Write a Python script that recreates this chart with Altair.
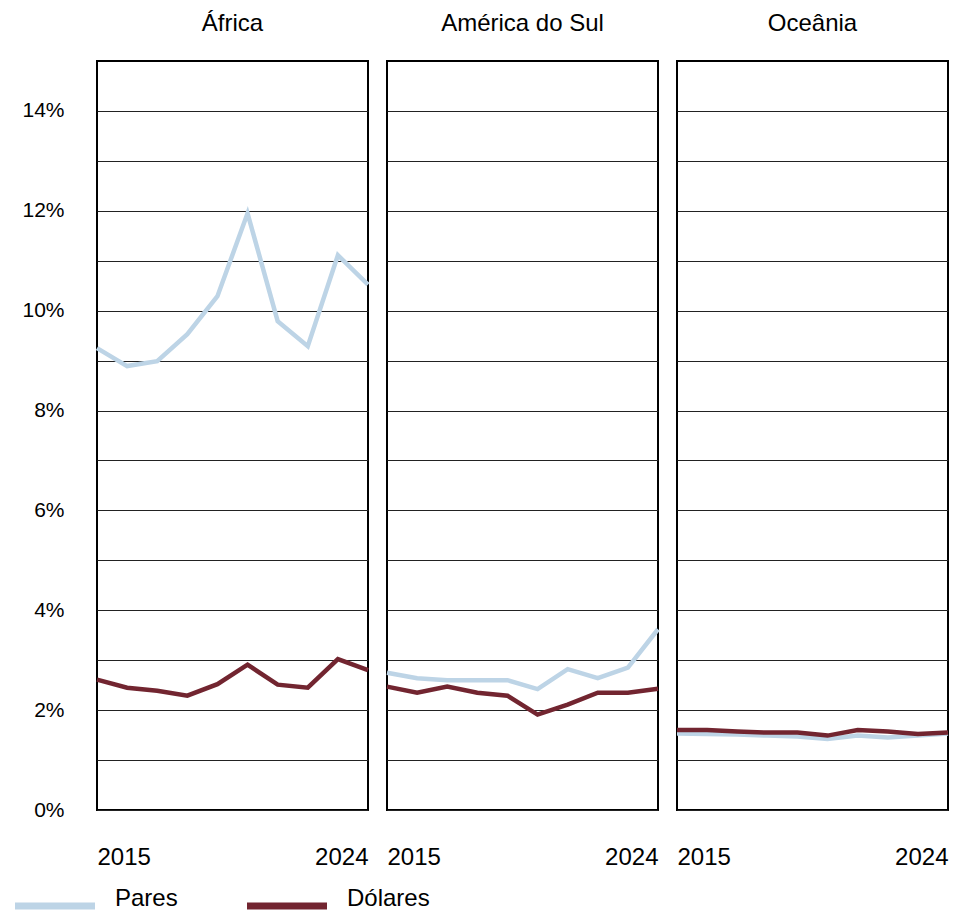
import altair as alt
import pandas as pd

years = list(range(2015, 2025))
regions = ["África", "América do Sul", "Oceânia"]
series_names = ["Pares", "Dólares"]
colors = ["#bdd4e6", "#722530"]

africa_pares = [9.25, 8.89, 8.99, 9.53, 10.29, 11.95, 9.79, 9.29, 11.11, 10.52]
africa_dolares = [2.61, 2.45, 2.39, 2.29, 2.52, 2.91, 2.51, 2.45, 3.02, 2.80]
sul_pares = [2.75, 2.64, 2.60, 2.60, 2.60, 2.42, 2.82, 2.64, 2.85, 3.62]
sul_dolares = [2.47, 2.35, 2.47, 2.35, 2.29, 1.91, 2.11, 2.35, 2.35, 2.43]
oce_pares = [1.53, 1.52, 1.51, 1.49, 1.47, 1.42, 1.49, 1.45, 1.49, 1.53]
oce_dolares = [1.60, 1.60, 1.57, 1.55, 1.55, 1.49, 1.60, 1.57, 1.52, 1.55]

table = {
    ("África", "Pares"): africa_pares,
    ("África", "Dólares"): africa_dolares,
    ("América do Sul", "Pares"): sul_pares,
    ("América do Sul", "Dólares"): sul_dolares,
    ("Oceânia", "Pares"): oce_pares,
    ("Oceânia", "Dólares"): oce_dolares,
}

rows = []
for s_i, s in enumerate(series_names):
    for r in regions:
        for y, v in zip(years, table[(r, s)]):
            rows.append({"region": r, "series": s, "order": s_i, "year": y, "value": v})
df = pd.DataFrame(rows)

FONT = "Liberation Sans"

lines = alt.Chart(df).mark_line(strokeWidth=4.5, strokeJoin="miter").encode(
    x=alt.X("year:Q",
            scale=alt.Scale(domain=[2015, 2024], nice=False, zero=False),
            axis=alt.Axis(values=[2015, 2024], format="d", labelFlush=True,
                          grid=False, ticks=False, tickSize=0, domain=False,
                          title=None, labelFontSize=24, labelPadding=34,
                          labelColor="black", labelFont=FONT)),
    y=alt.Y("value:Q",
            scale=alt.Scale(domain=[0, 15], nice=False),
            axis=alt.Axis(values=list(range(0, 15)),
                          labelExpr="datum.value % 2 == 0 ? datum.value + '%' : ''",
                          grid=True, gridColor="#222222", gridWidth=1,
                          ticks=False, tickSize=0, domain=False, title=None,
                          labelFontSize=21, labelPadding=23, labelColor="black",
                          labelFont=FONT)),
    color=alt.Color("series:N",
                    scale=alt.Scale(domain=series_names, range=colors),
                    legend=alt.Legend(title=None, orient="none", direction="horizontal",
                                      legendX=-54, legendY=833,
                                      symbolType="M-8,0L8,0", symbolSize=100,
                                      symbolStrokeWidth=7, labelFontSize=24,
                                      labelFont=FONT, labelColor="black",
                                      labelOffset=48, columnPadding=55,
                                      labelBaseline="alphabetic")),
    order=alt.Order("order:Q"),
).properties(width=271, height=749)

chart = lines.facet(
    column=alt.Column("region:N", sort=regions,
                      header=alt.Header(title=None, labelFontSize=24, labelFont=FONT,
                                        labelColor="black", labelPadding=24)),
    spacing=-1,
).configure_view(stroke="black", strokeWidth=2).properties(
    padding={"left": 13, "top": 4, "right": 0, "bottom": -3}
)

chart.save("out.html", embed_options={"renderer": "svg", "actions": False})
